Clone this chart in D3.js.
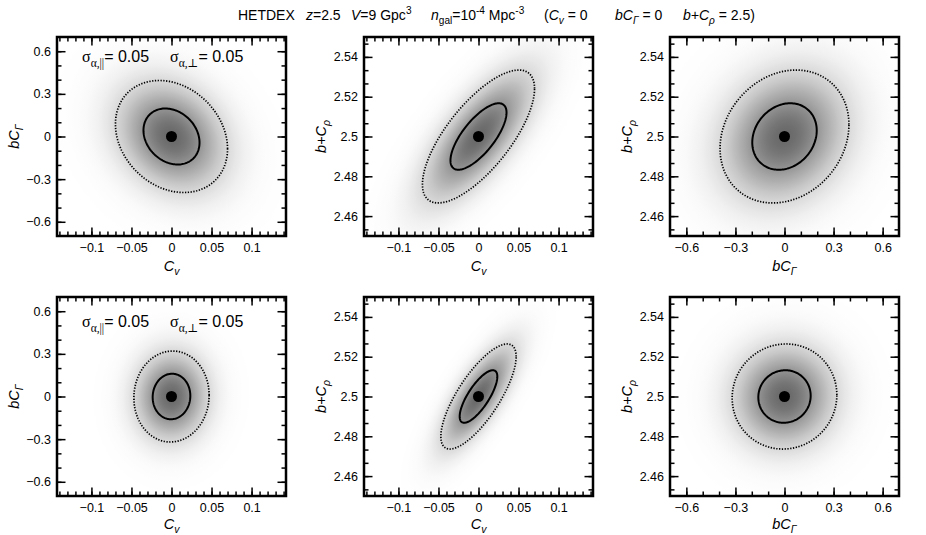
<!DOCTYPE html>
<html><head><meta charset="utf-8">
<script src="https://cdn.jsdelivr.net/npm/d3@7"></script>
<style>
body{margin:0;background:#fff}
svg{display:block}
text{font-family:"Liberation Sans",Arial,Helvetica,sans-serif;fill:#000}
</style>
</head><body>
<svg id="chart" width="926" height="535"></svg>
<script>
// ---------------- data ----------------
const fiducial = [0, 0, 2.5];                 // C_v, bC_Gamma, b+C_rho
const sigmaTop = [0.035, 0.197, 0.0167];      // 1-sigma widths, top row
const corrTop = [-0.22, 0.72, 0.18];          // (Cv,bCG) (Cv,b+Crho) (bCG,b+Crho)
const sigmaBottom = [0.0235, 0.16, 0.0132];   // bottom row
const corrBottom = [0.03, 0.76, 0.03];
const contourLevels = [1, 2];                 // solid, dotted
const cvTicks = [-0.1, -0.05, 0, 0.05, 0.1];
const gTicks = [-0.6, -0.3, 0, 0.3, 0.6];
const rhoTicks = [2.46, 2.48, 2.5, 2.52, 2.54];
const cvMinor = d3.range(-14, 15).map(i => i * 0.01);
const gMinor = d3.range(-6, 7).map(i => i * 0.1);
const rhoMinor = d3.range(-1, 14).map(i => 2.46 + i * 0.02 / 3);
const cvDomain = [-0.143, 0.143];
const gDomain = [-0.7, 0.7];
const rhoDomain = [2.45, 2.55];
const pairs = [[0, 1], [0, 2], [1, 2]];
const sigmaLabel = "0.05";

// ---------------- helpers ----------------
const params = [
  {domain: cvDomain, major: cvTicks, minor: cvMinor,
   label: [{t: "C", i: 1}, {t: "v", i: 1, sub: 1}]},
  {domain: gDomain, major: gTicks, minor: gMinor,
   label: [{t: "bC", i: 1}, {t: "\u0393", i: 1, sub: 1}]},
  {domain: rhoDomain, major: rhoTicks, minor: rhoMinor,
   label: [{t: "b+C", i: 1}, {t: "\u03C1", i: 1, sub: 1}]}
];

function rich(sel, parts, fs) {
  let shift = 0;
  parts.forEach(p => {
    const ts = sel.append("tspan").text(p.t);
    const target = p.sub ? fs * 0.3 : p.sup ? -fs * 0.42 : 0;
    if (target - shift !== 0) ts.attr("dy", target - shift);
    shift = target;
    if (p.sub || p.sup) ts.attr("font-size", fs * 0.72);
    if (p.i) ts.attr("font-style", "italic");
    if (p.serif) ts.attr("font-family", "'Liberation Serif','DejaVu Serif',serif");
  });
  return sel;
}

const fmt = d3.format("~g");
const svg = d3.select("#chart");
const defs = svg.append("defs");

const lefts = [57, 364, 670];
const tops = [37, 297];
const W = 229, H = 199;
const xTitleY = [271, 529];
const rows = [
  {sigma: sigmaTop, corr: corrTop},
  {sigma: sigmaBottom, corr: corrBottom}
];

function corrOf(corr, a, b) {
  const k = pairs.findIndex(p => p[0] === a && p[1] === b);
  return corr[k];
}

const R = 4.2; // gradient radius in sigma units
rows.forEach((row, ri) => {
  pairs.forEach((pair, ci) => {
    const [a, b] = pair;
    const px = params[a], py = params[b];
    const x0 = lefts[ci], y0 = tops[ri];
    const x = d3.scaleLinear().domain(px.domain).range([x0, x0 + W]);
    const y = d3.scaleLinear().domain(py.domain).range([y0 + H, y0]);
    const g = svg.append("g");
    const cid = `clip${ri}${ci}`;
    defs.append("clipPath").attr("id", cid).append("rect")
      .attr("x", x0).attr("y", y0).attr("width", W).attr("height", H);

    const sx = row.sigma[a], sy = row.sigma[b], rho = corrOf(row.corr, a, b);
    const A00 = sx, A10 = rho * sy, A11 = sy * Math.sqrt(1 - rho * rho);
    const mx = fiducial[a], my = fiducial[b];

    // shading: radial gradient on transformed unit circle
    const gid = `grad${ri}${ci}`;
    const grad = defs.append("radialGradient").attr("id", gid)
      .attr("gradientUnits", "userSpaceOnUse").attr("cx", 0).attr("cy", 0).attr("r", R);
    d3.range(0, 41).forEach(i => {
      const t = i / 40, r = t * R;
      const f = Math.exp(-0.34 * r * r);
      const v = Math.round(255 - 150 * f);
      grad.append("stop").attr("offset", t).attr("stop-color", `rgb(${v},${v},${v})`);
    });
    const cx = x(mx), cy = y(my);
    const m00 = x(mx + A00) - cx, m10 = y(my + A10) - cy, m11 = y(my + A11) - cy;
    g.append("g").attr("clip-path", `url(#${cid})`)
      .append("circle").attr("r", R)
      .attr("transform", `matrix(${m00},${m10},0,${m11},${cx},${cy})`)
      .attr("fill", `url(#${gid})`);

    // contours
    const line = d3.line().x(d => x(d[0])).y(d => y(d[1])).curve(d3.curveLinearClosed);
    contourLevels.forEach((k, li) => {
      const pts = d3.range(0, 160).map(j => {
        const th = j / 160 * 2 * Math.PI;
        const u = k * Math.cos(th), v = k * Math.sin(th);
        return [mx + A00 * u, my + A10 * u + A11 * v];
      });
      g.append("path").attr("d", line(pts)).attr("fill", "none")
        .attr("stroke", "#000")
        .attr("stroke-width", li === 0 ? 2 : 1.7)
        .attr("stroke-dasharray", li === 0 ? null : "1.3,1.5");
    });
    g.append("circle").attr("cx", cx).attr("cy", cy).attr("r", 5.5).attr("fill", "#000");

    // axes
    const mk = (axisFn, scale, vals, size, labels, pad) =>
      axisFn(scale).tickValues(vals).tickSize(size).tickSizeOuter(0)
        .tickPadding(pad || 3).tickFormat(labels ? (d => fmt(d)) : "");
    const axes = [
      [d3.axisBottom, x, y0 + H, true],
      [d3.axisTop, x, y0, false],
      [d3.axisLeft, y, x0, true],
      [d3.axisRight, y, x0 + W, false]
    ];
    axes.forEach(([fn, sc, pos, lab]) => {
      const horiz = (fn === d3.axisBottom || fn === d3.axisTop);
      const pA = horiz ? px : py;
      const tr = horiz ? `translate(0,${pos})` : `translate(${pos},0)`;
      const minorG = g.append("g").attr("transform", tr)
        .call(mk(fn, sc, pA.minor, -4.5, false));
      const majorG = g.append("g").attr("transform", tr)
        .call(mk(fn, sc, pA.major, -8.5, lab, horiz ? 7 : 6));
      [minorG, majorG].forEach(s => {
        s.select(".domain").remove();
        s.selectAll(".tick line").attr("stroke", "#000").attr("stroke-width", 1.5);
        s.selectAll("text").attr("font-size", 12.5).attr("fill", "#000")
          .attr("font-family", "'Liberation Sans',Arial,sans-serif");
      });
    });

    // frame
    g.append("rect").attr("x", x0).attr("y", y0).attr("width", W).attr("height", H)
      .attr("fill", "none").attr("stroke", "#000").attr("stroke-width", 2.5);

    // axis titles
    rich(g.append("text").attr("x", x0 + W / 2).attr("y", xTitleY[ri])
      .attr("text-anchor", "middle").attr("font-size", 14.5), px.label, 14.5);
    rich(g.append("text").attr("transform", `translate(${x0 - 38},${y0 + H / 2}) rotate(-90)`)
      .attr("text-anchor", "middle").attr("font-size", 14.5), py.label, 14.5);

    // sigma annotation
    if (ci === 0) {
      const ly = ri === 0 ? 62 : 327;
      rich(g.append("text").attr("x", 82).attr("y", ly).attr("font-size", 16),
        [{t: "\u03C3", serif: 1}, {t: "\u03B1,||", serif: 1, sub: 1}, {t: "= " + sigmaLabel}], 16);
      rich(g.append("text").attr("x", 170).attr("y", ly).attr("font-size", 16),
        [{t: "\u03C3", serif: 1}, {t: "\u03B1,\u22A5", serif: 1, sub: 1}, {t: "= " + sigmaLabel}], 16);
    }
  });
});

// ---------------- title ----------------
const ty = 20, tfs = 14;
const titleParts = [
  [238, [{t: "HETDEX"}]],
  [306, [{t: "z", i: 1}, {t: "=2.5"}]],
  [351, [{t: "V", i: 1}, {t: "=9 Gpc"}, {t: "3", sup: 1}]],
  [431, [{t: "n", i: 1}, {t: "gal", sub: 1}, {t: "=10"}, {t: "-4", sup: 1}, {t: " Mpc"}, {t: "-3", sup: 1}]],
  [544, [{t: "("}, {t: "C", i: 1}, {t: "v", i: 1, sub: 1}, {t: " = 0"}]],
  [615, [{t: "bC", i: 1}, {t: "\u0393", i: 1, sub: 1}, {t: " = 0"}]],
  [683, [{t: "b+C", i: 1}, {t: "\u03C1", i: 1, sub: 1}, {t: " = 2.5)"}]]
];
titleParts.forEach(([tx, parts]) => {
  rich(svg.append("text").attr("x", tx).attr("y", ty).attr("font-size", tfs), parts, tfs);
});
</script>
</body></html>
